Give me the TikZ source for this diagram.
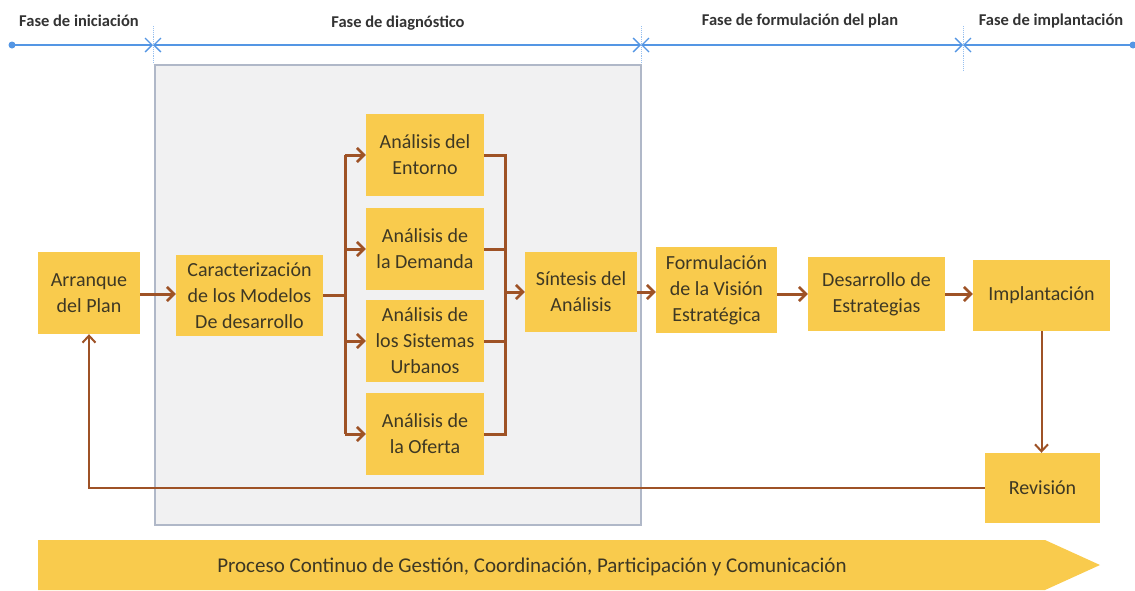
\documentclass[tikz,border=0pt]{standalone}
\usepackage{fontspec}
\setmainfont{Carlito}
\usetikzlibrary{arrows.meta}
\definecolor{boxyellow}{RGB}{249,203,77}
\definecolor{connbrown}{RGB}{158,82,38}
\definecolor{lineblue}{RGB}{84,150,228}
\definecolor{txtdark}{RGB}{62,56,36}
\definecolor{panelgray}{RGB}{241,241,242}
\definecolor{panelborder}{RGB}{176,184,200}
\tikzset{
  box/.style={fill=boxyellow, draw=none, align=center, text=txtdark,
    font=\fontsize{20}{26}\selectfont, inner sep=2pt},
  conn/.style={draw=connbrown, line width=3pt,
    -{Straight Barb[length=7pt,width=14pt,line width=2.6pt]}},
  plain/.style={draw=connbrown, line width=3pt},
  loopconn/.style={draw=connbrown, line width=2pt,
    -{Straight Barb[length=7pt,width=13pt,line width=2pt]}},
  tline/.style={draw=lineblue, line width=1.4pt},
  tip/.tip={Straight Barb[length=7pt,width=14pt,line width=1.4pt]},
  sep/.style={draw=lineblue!60, line width=0.9pt, densely dotted},
  phase/.style={font=\fontsize{16.5}{18}\selectfont\bfseries, text=black!80},
}
\begin{document}
\begin{tikzpicture}[x=1pt,y=-1pt]
\useasboundingbox (0,0) rectangle (1135,590);

% gray panel
\node[draw=panelborder, fill=panelgray, line width=1.4pt, minimum width=486, minimum height=460, inner sep=0pt] (panel) at (398,295) {};

% timeline
\coordinate (t0) at (12,45);
\coordinate (s1) at (153,45);
\coordinate (s2) at (641,45);
\coordinate (s3) at (963,45);
\coordinate (t4) at (1133,45);
\draw[sep] (153,26) -- (153,64);
\draw[sep] (641,26) -- (641,64);
\draw[sep] (963,26) -- (963,70);
\draw[tline, -tip] (t0) -- (s1);
\draw[tline, tip-tip] (s1) -- (s2);
\draw[tline, tip-tip] (s2) -- (s3);
\draw[tline, tip-] (s3) -- (t4);
\fill[lineblue] (t0) circle (3.5);
\fill[lineblue] (t4) circle (3.5);

\node[phase] (p1) at (79,21) {Fase de iniciación};
\node[phase] (p2) at (398,23) {Fase de diagnóstico};
\node[phase] (p3) at (800,21) {Fase de formulación del plan};
\node[phase] (p4) at (1051,21) {Fase de implantación};

% boxes
\node[box, minimum width=102, minimum height=82] (arr) at (89,293) {Arranque\\del Plan};
\node[box, minimum width=147, minimum height=81] (car) at (249.5,295.5) {Caracterización\\de los Modelos\\De desarrollo};
\node[box, minimum width=118, minimum height=82] (ent) at (425,155) {Análisis del\\Entorno};
\node[box, minimum width=118, minimum height=82] (dem) at (425,249) {Análisis de\\la Demanda};
\node[box, minimum width=118, minimum height=82] (sis) at (425,341) {Análisis de\\los Sistemas\\Urbanos};
\node[box, minimum width=118, minimum height=82] (ofe) at (425,434) {Análisis de\\la Oferta};
\node[box, minimum width=112, minimum height=80] (sin) at (581,292) {Síntesis del\\Análisis};
\node[box, minimum width=121, minimum height=86] (for) at (716.5,290) {Formulación\\de la Visión\\Estratégica};
\node[box, minimum width=137, minimum height=74] (des) at (876.5,294) {Desarrollo de\\Estrategias};
\node[box, minimum width=137, minimum height=71] (imp) at (1041.5,295.5) {Implantación};
\node[box, minimum width=115, minimum height=70] (rev) at (1042.5,488) {Revisión};

% bottom process arrow
\path[fill=boxyellow] (38,540) -- (1045,540) -- (1100,565) -- (1045,590) -- (38,590) -- cycle;
\node[text=txtdark, font=\fontsize{21}{24}\selectfont] (proc) at (532,567) {Proceso Continuo de Gestión, Coordinación, Participación y Comunicación};

% connectors
\coordinate (bl) at (345,295);
\coordinate (br) at (505,292);
\draw[conn] (arr.east |- 0,294) -- (car.west |- 0,294);
\draw[plain] (car.east) -- (car.east -| bl);
\draw[plain] (ent.west -| bl) -- (ofe.west -| bl);
\draw[conn] (ent.west -| bl) -- (ent.west);
\draw[conn] (dem.west -| bl) -- (dem.west);
\draw[conn] (sis.west -| bl) -- (sis.west);
\draw[conn] (ofe.west -| bl) -- (ofe.west);
\draw[plain] (ent.east) -- (ent.east -| br) -- (ofe.east -| br) -- (ofe.east);
\draw[plain] (dem.east) -- (dem.east -| br);
\draw[plain] (sis.east) -- (sis.east -| br);
\draw[conn] (br) -- (sin.west);
\draw[conn] (sin.east) -- (for.west |- sin.east);
\draw[conn] (for.east |- des.west) -- (des.west);
\draw[conn] (des.east) -- (imp.west |- des.east);
\draw[loopconn] (imp.south) -- (imp.south |- rev.north);
\draw[loopconn] (rev.west) -| (arr.south);
\end{tikzpicture}
\end{document}
